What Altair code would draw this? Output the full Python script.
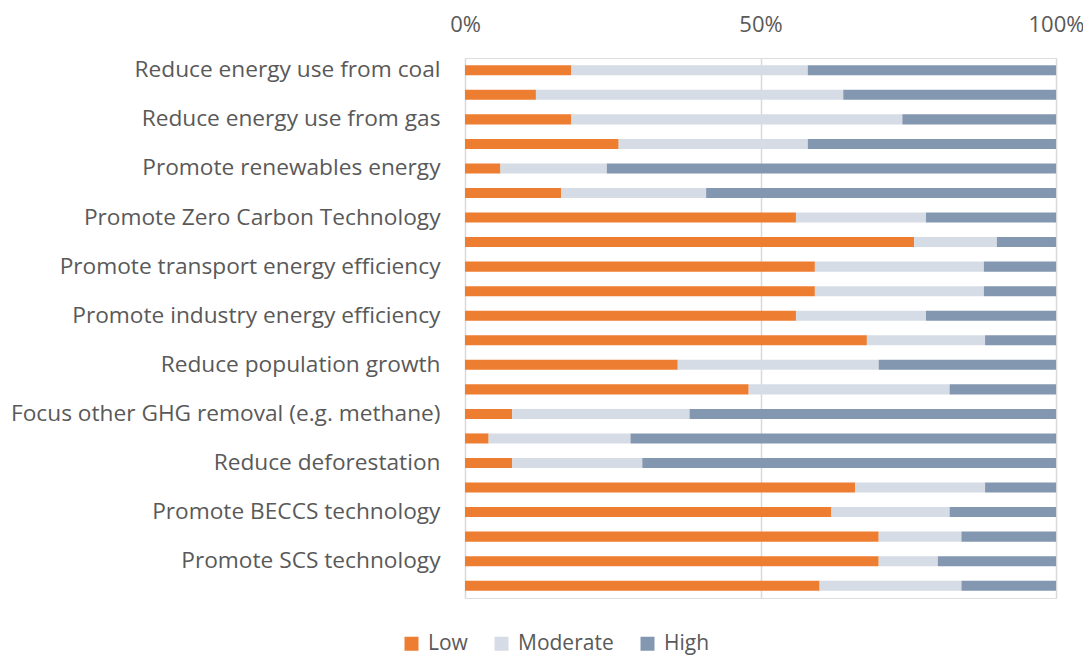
import altair as alt
import pandas as pd

labels = [
    "Reduce energy use from coal", "",
    "Reduce energy use from gas", "",
    "Promote renewables energy", "",
    "Promote Zero Carbon Technology", "",
    "Promote transport energy efficiency", "",
    "Promote industry energy efficiency", "",
    "Reduce population growth", "",
    "Focus other GHG removal (e.g. methane)", "",
    "Reduce deforestation", "",
    "Promote BECCS technology", "",
    "Promote SCS technology", "",
]
low = [18, 12, 18, 26, 6, 16.3, 56, 76, 59.2, 59.2, 56, 68, 36, 48, 8, 4, 8, 66, 62, 70, 70, 60]
moderate = [40, 52, 56, 32, 18, 24.5, 22, 14, 28.6, 28.6, 22, 20, 34, 34, 30, 24, 22, 22, 20, 14, 10, 24]
high = [42, 36, 26, 42, 76, 59.2, 22, 10, 12.2, 12.2, 22, 12, 30, 18, 62, 72, 70, 12, 18, 16, 20, 16]
levels = ["Low", "Moderate", "High"]
colors = ["#ED7D31", "#D6DCE5", "#8497B0"]

rows = []
for i in range(len(labels)):
    for k, (lvl, vals) in enumerate(zip(levels, [low, moderate, high])):
        rows.append({"row": i + 1, "level": lvl, "ord": k, "value": vals[i]})
df = pd.DataFrame(rows)

label_js = "[" + ",".join("'" + s.replace("'", "\\'") + "'" for s in labels) + "]"
font = "Open Sans"
txt = "#595959"

chart = alt.Chart(df).mark_bar().encode(
    y=alt.Y(
        "row:O",
        sort="ascending",
        scale=alt.Scale(paddingInner=0.59, paddingOuter=0.295),
        axis=alt.Axis(
            title=None,
            labelExpr=label_js + "[datum.value - 1]",
            ticks=False,
            domain=False,
            labelPadding=25,
            labelFont=font,
            labelFontSize=22.7,
            labelColor=txt,
            labelLimit=600,
        ),
    ),
    x=alt.X(
        "value:Q",
        stack="normalize",
        scale=alt.Scale(domain=[0, 1], nice=False),
        axis=alt.Axis(
            orient="top",
            title=None,
            values=[0, 0.5, 1],
            format=".0%",
            ticks=False,
            domain=False,
            grid=True,
            gridColor="#D9D9D9",
            gridWidth=1.5,
            labelPadding=22,
            labelFont=font,
            labelFontSize=22,
            labelColor=txt,
            labelFlush=False,
        ),
    ),
    color=alt.Color(
        "level:N",
        scale=alt.Scale(domain=levels, range=colors),
        legend=alt.Legend(
            title=None,
            orient="none",
            direction="horizontal",
            legendX=-64,
            legendY=575,
            symbolType="square",
            symbolSize=196,
            symbolStrokeWidth=0,
            labelFont=font,
            labelFontSize=21,
            labelColor=txt,
            labelOffset=6,
            columnPadding=23,
        ),
    ),
    order=alt.Order("ord:Q"),
).properties(
    width=591,
    height=540,
    autosize=alt.AutoSizeParams(type="none"),
    padding={"left": 457, "top": 50, "right": 27, "bottom": 60},
).configure_view(stroke=None).configure(background="white")

chart.save("out.html", embed_options={"renderer": "svg", "actions": False})
